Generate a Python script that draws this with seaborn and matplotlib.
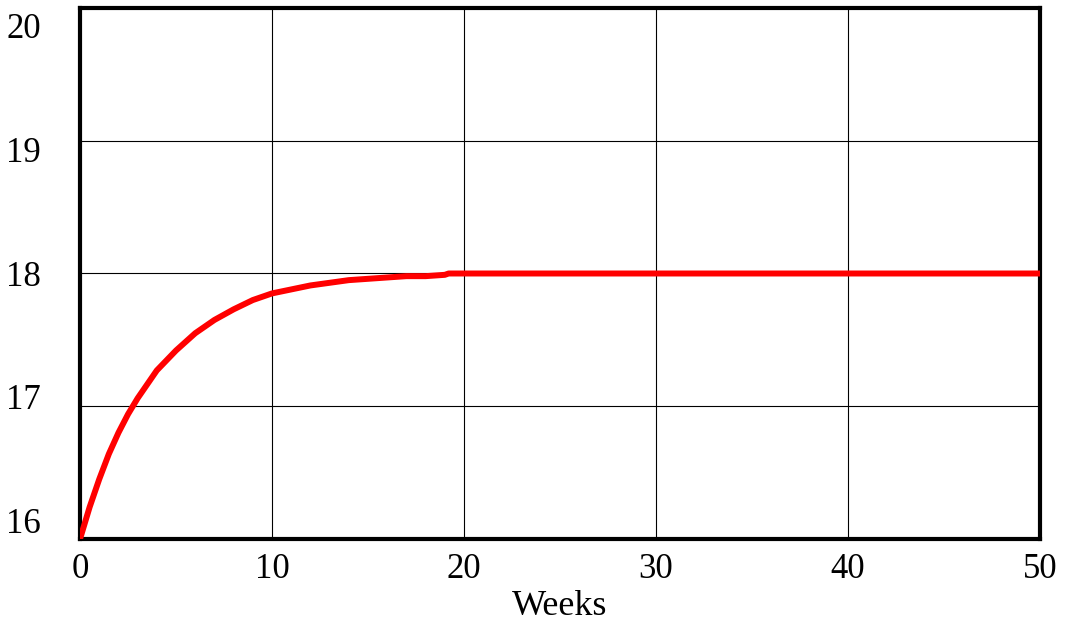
import matplotlib
matplotlib.use("Agg")
import matplotlib.pyplot as plt
import seaborn as sns
import pandas as pd

# values
weeks = [0, 0.5, 1, 1.5, 2, 2.5, 3, 4, 5, 6, 7, 8, 9, 10, 11, 12, 13, 14,
         15, 16, 17, 18, 19, 19.2, 25, 30, 40, 50]
level = [16.00, 16.24, 16.45, 16.64, 16.80, 16.94, 17.06, 17.27, 17.42, 17.55,
         17.65, 17.73, 17.80, 17.85, 17.88, 17.91, 17.93, 17.95, 17.96, 17.97,
         17.98, 17.98, 17.99, 18.00, 18.00, 18.00, 18.00, 18.00]

x_ticks = [0, 10, 20, 30, 40, 50]
y_ticks = [16, 17, 18, 19, 20]

sns.set_style("white")
plt.rcParams['font.family'] = ['Liberation Serif', 'DejaVu Serif']
plt.rcParams['text.color'] = 'black'
plt.rcParams['xtick.color'] = 'black'
plt.rcParams['ytick.color'] = 'black'
plt.rcParams['axes.labelcolor'] = 'black'

df = pd.DataFrame({"Weeks": weeks, "Level": level})

fig = plt.figure(figsize=(10.67, 6.27), dpi=100)
ax = fig.add_axes([0.075, 0.1404, 0.8997, 0.8468])

sns.lineplot(data=df, x="Weeks", y="Level", color="#ff0000", linewidth=4.3,
             ax=ax, zorder=3, solid_capstyle="butt")

ax.set_xlim(0, 50)
ax.set_ylim(16, 20)
ax.set_xticks(x_ticks)
ax.set_yticks(y_ticks)
ax.grid(True, color="black", linewidth=0.8)
ax.tick_params(axis="x", length=0, pad=10, labelsize=25)
ax.tick_params(axis="y", length=0, labelleft=False)
ax.set_xlabel("Weeks", fontsize=26, labelpad=3)
ax.set_ylabel("")
for s in ax.spines.values():
    s.set_visible(True)
    s.set_color("black")
    s.set_linewidth(3)

# y labels in the reference sit on a slightly compressed scale
ax2 = ax.twinx()
ax2.set_ylim(15.855, 20.137)
ax2.set_yticks(y_ticks)
ax2.yaxis.set_ticks_position("left")
ax2.tick_params(axis="y", length=0, pad=28, labelsize=25, right=False,
                labelright=False, labelleft=True)
for s in ax2.spines.values():
    s.set_visible(False)

fig.savefig("out.png", dpi=100)
